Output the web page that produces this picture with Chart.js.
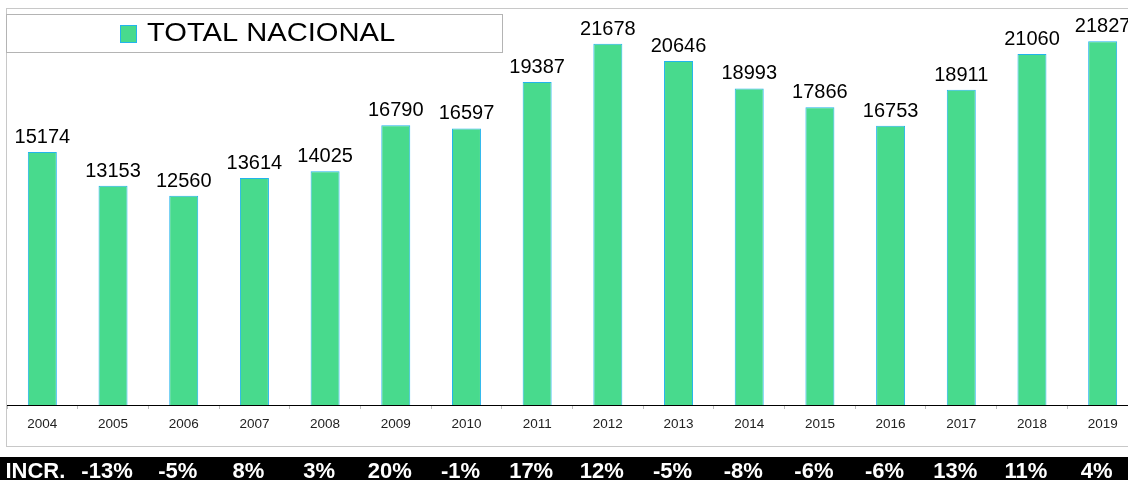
<!DOCTYPE html>
<html>
<head>
<meta charset="utf-8">
<script src="https://cdn.jsdelivr.net/npm/chart.js@4.4.1/dist/chart.umd.min.js"></script>
<style>
  html, body { margin: 0; padding: 0; background: #fff; overflow: hidden; }
  #wrap { width: 1140px; height: 480px; }
</style>
</head>
<body>
<div id="wrap"><canvas id="myChart" width="1140" height="480"></canvas></div>
<script>
// data
var years = ["2004","2005","2006","2007","2008","2009","2010","2011","2012","2013","2014","2015","2016","2017","2018","2019"];
var total = [15174,13153,12560,13614,14025,16790,16597,19387,21678,20646,18993,17866,16753,18911,21060,21827];
var incr = ["-13%","-5%","8%","3%","20%","-1%","17%","12%","-5%","-8%","-6%","-6%","13%","11%","4%"];
var seriesName = "TOTAL NACIONAL";
var rowLabel = "INCR.";

var fill = "#48da8d";
var edge = "#22b4ec";
var fontFam = "'Liberation Sans', Arial, sans-serif";

// draws text stretched sideways, like the original export
function wideText(ctx, txt, x, y, sx){
    ctx.save();
    ctx.translate(x, y);
    ctx.scale(sx, 1);
    ctx.fillText(txt, 0, 0);
    ctx.restore();
}

var extras = {
    id: "extras",
    beforeDraw: function(chart){
        var ctx = chart.ctx;
        ctx.save();
        ctx.fillStyle = "#fff";
        ctx.fillRect(0, 0, chart.width, chart.height);
        // outer frame
        ctx.strokeStyle = "#c8c8c8";
        ctx.lineWidth = 1;
        ctx.strokeRect(6.5, 8.5, chart.width, 438);
        ctx.restore();
    },
    afterDraw: function(chart){
        var ctx = chart.ctx;
        var meta = chart.getDatasetMeta(0);
        var xs = chart.scales.x;
        ctx.save();

        // value labels over the bars
        ctx.fillStyle = "#000";
        ctx.font = "20px " + fontFam;
        ctx.textAlign = "center";
        ctx.textBaseline = "alphabetic";
        meta.data.forEach(function(bar, i){
            ctx.fillText(String(chart.data.datasets[0].data[i]), bar.x, bar.y - 9);
        });

        // legend box
        ctx.fillStyle = "#fff";
        ctx.fillRect(7, 14, 496, 38);
        ctx.strokeStyle = "#b4b4b4";
        ctx.strokeRect(6.5, 14.5, 496, 38);
        ctx.fillStyle = fill;
        ctx.fillRect(120.5, 25.5, 16, 17);
        ctx.strokeStyle = edge;
        ctx.strokeRect(120.5, 25.5, 16, 17);
        ctx.fillStyle = "#000";
        ctx.font = "26px " + fontFam;
        ctx.textAlign = "left";
        wideText(ctx, chart.data.datasets[0].label, 147, 40.5, 1.12);

        // increment strip
        ctx.fillStyle = "#000";
        ctx.fillRect(0, 457, chart.width, 23);
        ctx.fillStyle = "#fff";
        ctx.font = "bold 22px " + fontFam;
        ctx.textAlign = "center";
        ctx.fillText(rowLabel, xs.getPixelForValue(0) - 7, 478);
        incr.forEach(function(t, i){
            ctx.fillText(t, xs.getPixelForValue(i + 1) - 6, 478);
        });
        ctx.restore();
    }
};

new Chart("myChart", {
    type: "bar",
    data: {
        labels: years,
        datasets: [{
            label: seriesName,
            data: total,
            backgroundColor: fill,
            borderColor: edge,
            borderWidth: 1,
            barPercentage: 0.41,
            categoryPercentage: 1
        }]
    },
    options: {
        responsive: false,
        animation: false,
        layout: { padding: { left: 7, right: 2, top: 5, bottom: 32 } },
        plugins: {
            legend: { display: false },
            tooltip: { enabled: false }
        },
        scales: {
            x: {
                afterFit: function(scale){ scale.height = 43; },
                border: { color: "#000", width: 1 },
                grid: { drawOnChartArea: false, tickLength: 4, color: "#bdbdbd", offset: true },
                ticks: { color: "#222", font: { family: fontFam, size: 13.5 }, padding: 7, maxRotation: 0 }
            },
            y: {
                display: false,
                min: 0,
                max: 24000
            }
        }
    },
    plugins: [extras]
});
</script>
</body>
</html>
